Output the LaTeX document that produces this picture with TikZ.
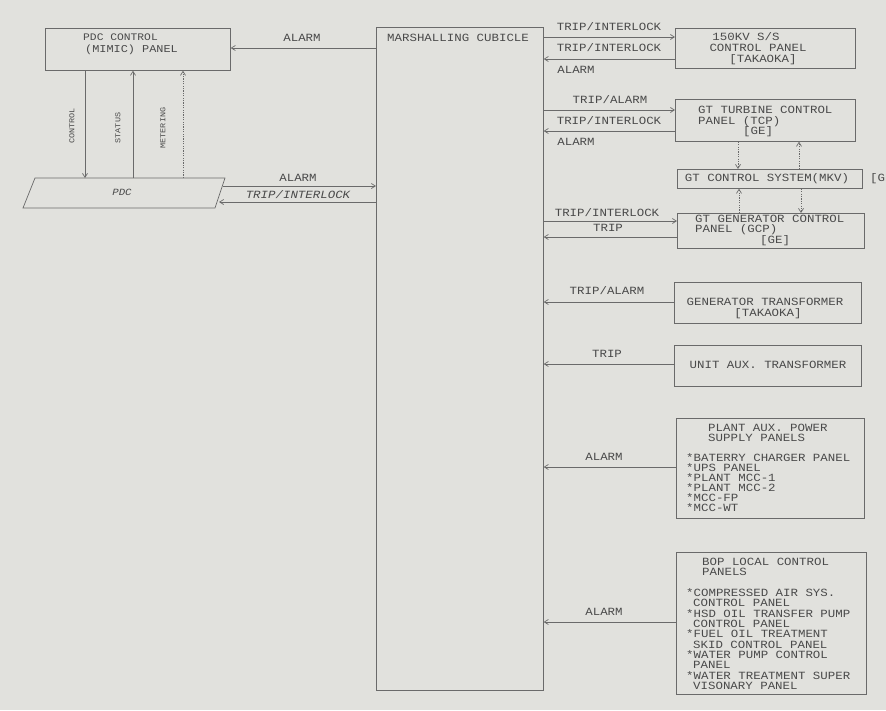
\documentclass[tikz,border=0pt]{standalone}
\usepackage{fontspec}
\setmainfont[FakeStretch=1.13]{Liberation Mono}
\usetikzlibrary{arrows.meta}
\definecolor{bg}{HTML}{E1E1DD}
\definecolor{ln}{HTML}{6A6A6A}
\definecolor{tx}{HTML}{4A4A4A}
\begin{document}
\begin{tikzpicture}[x=1pt,y=-1pt,
  box/.style={draw=ln, line width=0.7pt, inner sep=0pt, anchor=north west},
  lbl/.style={text=tx, inner sep=0pt, font=\fontsize{11}{10}\selectfont, text height=6.3pt, text depth=0pt},
  lblw/.style={lbl, anchor=west},
  small/.style={text=tx, inner sep=0pt, font=\fontsize{7.5}{8}\selectfont, text height=4.5pt, text depth=0pt, rotate=90},
  arr/.style={draw=ln, line width=0.7pt, -{Straight Barb[length=4pt,width=5pt]}},
  dotarr/.style={arr, dash pattern=on 1.2pt off 1.2pt}]

\useasboundingbox[fill=bg] (0,0) rectangle (886,710);
\clip (0,0) rectangle (886,710);

% ---------------- left side ----------------
\node[box, minimum width=185, minimum height=42] (mimic) at (45,28) {};
\node[lblw, font=\fontsize{10}{10}\selectfont] (mimic1) at (83,37) {PDC CONTROL};
\node[lblw, font=\fontsize{10.5}{10}\selectfont] (mimic2) at (85,49) {(MIMIC) PANEL};

\draw[ln, line width=0.7pt] (35,178) -- (225,178) -- (215,208) -- (23,208) -- cycle;
\node[lbl, font=\fontsize{9.5}{10}\itshape, text height=5.5pt] (pdc) at (122,193) {PDC};
\coordinate (pdcA) at (223,186);
\coordinate (pdcB) at (219,202);
\coordinate (pdcC) at (85,178);
\coordinate (pdcS) at (133,178);
\coordinate (pdcM) at (183,178);

\draw[arr] (mimic.south -| pdcC) -- (pdcC);
\draw[arr] (pdcS) -- (mimic.south -| pdcS);
\draw[dotarr] (pdcM) -- (mimic.south -| pdcM);
\node[small] (lctl) at (72,126) {CONTROL};
\node[small] (lsta) at (118,128) {STATUS};
\node[small] (lmet) at (163,128) {METERING};

% ---------------- marshalling cubicle ----------------
\node[box, minimum width=167, minimum height=663] (mc) at (376,27) {};
\node[lblw] (mct) at (387,38) {MARSHALLING CUBICLE};

\coordinate (mA) at (mc.west |- 0,48);
\draw[arr] (mA) -- (mimic.east |- mA);
\node[lbl] (la1) at (302,38) {ALARM};

\draw[arr] (pdcA) -- (mc.west |- pdcA);
\draw[arr] (mc.west |- pdcB) -- (pdcB);
\node[lbl] (la2) at (298,178) {ALARM};
\node[lbl, font=\fontsize{11}{10}\itshape] (lti) at (298,195) {TRIP/INTERLOCK};

% ---------------- 150KV S/S ----------------
\node[box, minimum width=180, minimum height=40] (ss) at (675,28) {};
\node[lbl] (ss1) at (746,37) {150KV S/S};
\node[lbl] (ss2) at (758,48) {CONTROL PANEL};
\node[lbl] (ss3) at (763,59) {[TAKAOKA]};
\coordinate (ssA) at (ss.west |- 0,37);
\coordinate (ssB) at (ss.west |- 0,59);
\draw[arr] (mc.east |- ssA) -- (ssA);
\draw[arr] (ssB) -- (mc.east |- ssB);
\node[lbl] (r1) at (609,27) {TRIP/INTERLOCK};
\node[lbl] (r2) at (609,48) {TRIP/INTERLOCK};
\node[lbl] (r3) at (576,70) {ALARM};

% ---------------- GT turbine control panel ----------------
\node[box, minimum width=180, minimum height=42] (tcp) at (675,99) {};
\node[lblw] (tcp1) at (698,110) {GT TURBINE CONTROL};
\node[lblw] (tcp2) at (698,121) {PANEL (TCP)};
\node[lblw] (tcp3) at (743,131) {[GE]};
\coordinate (tcpA) at (tcp.west |- 0,110);
\coordinate (tcpB) at (tcp.west |- 0,131);
\draw[arr] (mc.east |- tcpA) -- (tcpA);
\draw[arr] (tcpB) -- (mc.east |- tcpB);
\node[lbl] (r4) at (610,100) {TRIP/ALARM};
\node[lbl] (r5) at (609,121) {TRIP/INTERLOCK};
\node[lbl] (r6) at (576,142) {ALARM};

% ---------------- GT control system ----------------
\node[box, minimum width=185, minimum height=19] (mkv) at (677,169) {};
\node[lbl] (mkv1) at (767,178) {GT CONTROL SYSTEM(MKV)};
\node[lblw] (mkv2) at (870,178) {[GE]};

% ---------------- GT generator control panel ----------------
\node[box, minimum width=187, minimum height=35] (gcp) at (677,213) {};
\node[lblw] (gcp1) at (695,219) {GT GENERATOR CONTROL};
\node[lblw] (gcp2) at (695,229) {PANEL (GCP)};
\node[lblw] (gcp3) at (760,240) {[GE]};
\coordinate (gcpA) at (gcp.west |- 0,221);
\coordinate (gcpB) at (gcp.west |- 0,237);
\draw[arr] (mc.east |- gcpA) -- (gcpA);
\draw[arr] (gcpB) -- (mc.east |- gcpB);
\node[lbl] (r7) at (607,213) {TRIP/INTERLOCK};
\node[lbl] (r8) at (608,228) {TRIP};

\draw[dotarr] (tcp.south -| 738,0) -- (mkv.north -| 738,0);
\draw[dotarr] (mkv.north -| 799,0) -- (tcp.south -| 799,0);
\draw[dotarr] (gcp.north -| 739,0) -- (mkv.south -| 739,0);
\draw[dotarr] (mkv.south -| 801,0) -- (gcp.north -| 801,0);

% ---------------- generator transformer ----------------
\node[box, minimum width=187, minimum height=41] (gtx) at (674,282) {};
\node[lbl] (gtx1) at (765,302) {GENERATOR TRANSFORMER};
\node[lbl] (gtx2) at (768,313) {[TAKAOKA]};
\coordinate (gtxA) at (gtx.west |- 0,302);
\draw[arr] (gtxA) -- (mc.east |- gtxA);
\node[lbl] (r9) at (607,291) {TRIP/ALARM};

% ---------------- unit aux transformer ----------------
\node[box, minimum width=187, minimum height=41] (uat) at (674,345) {};
\node[lbl] (uat1) at (768,365) {UNIT AUX. TRANSFORMER};
\coordinate (uatA) at (uat.west |- 0,364);
\draw[arr] (uatA) -- (mc.east |- uatA);
\node[lbl] (r10) at (607,354) {TRIP};

% ---------------- plant aux power supply panels ----------------
\node[box, minimum width=188, minimum height=100] (pap) at (676,418) {};
\node[lblw] (pap1) at (708,428) {PLANT AUX. POWER};
\node[lblw] (pap2) at (708,438) {SUPPLY PANELS};
\foreach \t [count=\i] in {{*BATERRY CHARGER PANEL},{*UPS PANEL},{*PLANT MCC-1},{*PLANT MCC-2},{*MCC-FP},{*MCC-WT}}
  \node[lblw] (papl\i) at (686,448+10*\i) {\t};
\coordinate (papA) at (pap.west |- 0,467);
\draw[arr] (papA) -- (mc.east |- papA);
\node[lbl] (r11) at (604,457) {ALARM};

% ---------------- BOP local control panels ----------------
\node[box, minimum width=190, minimum height=142] (bop) at (676,552) {};
\node[lblw] (bop1) at (702,562) {BOP LOCAL CONTROL};
\node[lblw] (bop2) at (702,572) {PANELS};
\node[lblw] (bopa) at (686,593) {*COMPRESSED AIR SYS.};
\node[lblw] (bopb) at (693,603) {CONTROL PANEL};
\node[lblw] (bopc) at (686,614) {*HSD OIL TRANSFER PUMP};
\node[lblw] (bopd) at (693,624) {CONTROL PANEL};
\node[lblw] (bope) at (686,634) {*FUEL OIL TREATMENT};
\node[lblw] (bopf) at (693,645) {SKID CONTROL PANEL};
\node[lblw] (bopg) at (686,655) {*WATER PUMP CONTROL};
\node[lblw] (boph) at (693,665) {PANEL};
\node[lblw] (bopi) at (686,676) {*WATER TREATMENT SUPER};
\node[lblw] (bopj) at (693,686) {VISONARY PANEL};
\coordinate (bopA) at (bop.west |- 0,622);
\draw[arr] (bopA) -- (mc.east |- bopA);
\node[lbl] (r12) at (604,612) {ALARM};

\end{tikzpicture}
\end{document}
